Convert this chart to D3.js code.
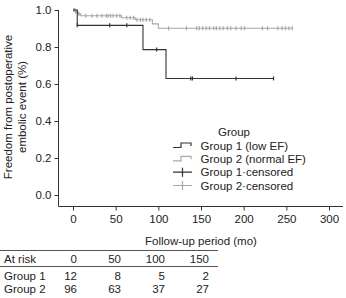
<!DOCTYPE html>
<html>
<head>
<meta charset="utf-8">
<script src="https://cdn.jsdelivr.net/npm/d3@7"></script>
<style>
  body { margin: 0; background: #fff; }
  svg text { font-family: "Liberation Sans", Arial, sans-serif; fill: #222; }
</style>
</head>
<body>
<svg id="chart" width="346" height="298"></svg>
<script>
// Kaplan-Meier steps (time in months, survival)
var g1Times = [0, 5, 82, 109, 235];
var g1Surv = [1.0, 0.917, 0.786, 0.63, 0.63];
var g1Cens = [5, 43, 63, 98, 138, 140, 191, 235];

var g2Times = [0, 3, 6, 9, 57, 73, 93, 100, 257];
var g2Surv = [1.0, 0.99, 0.979, 0.969, 0.958, 0.947, 0.925, 0.901, 0.901];
var g2Cens = [1, 2, 3, 5, 7, 15, 22, 28, 34, 39, 41, 44, 47, 51, 55,
    63, 67, 71, 75, 79, 82, 86, 90,
    112, 133, 145, 148, 152, 156, 160, 165, 168, 172, 176, 181, 185, 191, 197, 201,
    222, 228, 240, 245, 249, 253, 257];

var yTicks = [0, 0.2, 0.4, 0.6, 0.8, 1.0];
var xTicks = [0, 50, 100, 150, 200, 250, 300];

var legendLabels = ["Group 1 (low EF)", "Group 2 (normal EF)", "Group 1\u00b7censored", "Group 2\u00b7censored"];

var riskTimes = [0, 50, 100, 150];
var riskGroups = ["Group 1", "Group 2"];
var riskG1 = [12, 8, 5, 2];
var riskG2 = [96, 63, 37, 27];

var ctx = {
    col1: "#333333",
    col2: "#a8a8a8",
    axis: "#333333"
};

var svg = d3.select("#chart");

var x = d3.scaleLinear().domain([0, 300]).range([73, 329]);
var y = d3.scaleLinear().domain([0, 1]).range([195, 10]);

// L-shaped frame
svg.append("path")
    .attr("d", "M58.5," + y(1) + "V206.5H343")
    .attr("fill", "none")
    .attr("stroke", ctx.axis)
    .attr("stroke-width", 1);

var yAxis = svg.append("g")
    .attr("transform", "translate(58.5,0)")
    .call(d3.axisLeft(y).tickValues(yTicks).tickFormat(d3.format(".1f")).tickSize(4).tickPadding(3));
yAxis.select(".domain").remove();
yAxis.selectAll("line").attr("stroke", ctx.axis);
yAxis.selectAll("text").attr("font-size", "11.5px").attr("font-family", null);

var xAxis = svg.append("g")
    .attr("transform", "translate(0,206.5)")
    .call(d3.axisBottom(x).tickValues(xTicks).tickSize(4).tickPadding(4));
xAxis.select(".domain").remove();
xAxis.selectAll("line").attr("stroke", ctx.axis);
xAxis.selectAll("text").attr("font-size", "11.5px").attr("font-family", null);

// y label
var yLab = svg.append("text")
    .attr("transform", "translate(12,107) rotate(-90)")
    .attr("text-anchor", "middle")
    .attr("font-size", "11.5px");
yLab.append("tspan").attr("x", 0).attr("dy", 0).text("Freedom from postoperative");
yLab.append("tspan").attr("x", 0).attr("dy", 13.5).text("embolic event (%)");

svg.append("text")
    .attr("x", 201)
    .attr("y", 245)
    .attr("text-anchor", "middle")
    .attr("font-size", "11.5px")
    .text("Follow-up period (mo)");

// curves
var drawGroup = function(times, surv, cens, color) {
    var pts = times.map((t, i) => [t, surv[i]]);
    var line = d3.line()
        .x(d => x(d[0]))
        .y(d => y(d[1]))
        .curve(d3.curveStepAfter);
    svg.append("path")
        .datum(pts)
        .attr("d", line)
        .attr("fill", "none")
        .attr("stroke", color)
        .attr("stroke-width", 1.1);

    var survAt = function(t) {
        var s = surv[0];
        times.forEach(function(tt, i) { if (tt <= t) s = surv[i]; });
        return s;
    };
    svg.append("g").selectAll("line")
        .data(cens)
        .enter()
        .append("line")
        .attr("x1", d => x(d))
        .attr("x2", d => x(d))
        .attr("y1", d => y(survAt(d)) - 2)
        .attr("y2", d => y(survAt(d)) + 2)
        .attr("stroke", color)
        .attr("stroke-width", 1.2);
};
drawGroup(g2Times, g2Surv, g2Cens, ctx.col2);
drawGroup(g1Times, g1Surv, g1Cens, ctx.col1);

// legend
var legG = svg.append("g").attr("transform", "translate(173,0)");
legG.append("text")
    .attr("x", 61)
    .attr("y", 135.5)
    .attr("text-anchor", "middle")
    .attr("font-size", "11.5px")
    .text("Group");
var legY = d3.scalePoint().domain(legendLabels).range([145.5, 185.5]);
var legCol = [ctx.col1, ctx.col2, ctx.col1, ctx.col2];
legendLabels.forEach(function(lab, i) {
    var cy = legY(lab);
    if (i < 2) {
        legG.append("path")
            .attr("d", "M0," + (cy + 2) + "H8V" + (cy - 2.5) + "H18V" + (cy + 0.5))
            .attr("fill", "none")
            .attr("stroke", legCol[i])
            .attr("stroke-width", 1.2);
    } else {
        legG.append("path")
            .attr("d", "M0," + cy + "H19M9.5," + (cy - 4.5) + "V" + (cy + 4.5))
            .attr("fill", "none")
            .attr("stroke", legCol[i])
            .attr("stroke-width", 1.2);
    }
    legG.append("text")
        .attr("x", 27.5)
        .attr("y", cy + 4)
        .attr("font-size", "11.5px")
        .text(lab);
});

// at risk table
var riskX = d3.scaleLinear().domain([0, 150]).range([77, 209]);
svg.append("line").attr("x1", 0).attr("x2", 218).attr("y1", 250.5).attr("y2", 250.5)
    .attr("stroke", "#555").attr("stroke-width", 1);
svg.append("line").attr("x1", 0).attr("x2", 218).attr("y1", 266.5).attr("y2", 266.5)
    .attr("stroke", "#555").attr("stroke-width", 1);

svg.append("text").attr("x", 4).attr("y", 263).attr("font-size", "11.5px").text("At risk");
svg.append("g").selectAll("text")
    .data(riskTimes)
    .enter()
    .append("text")
    .attr("x", d => riskX(d))
    .attr("y", 263)
    .attr("text-anchor", "end")
    .attr("font-size", "11.5px")
    .text(d => d);

[riskG1, riskG2].forEach(function(row, r) {
    var ry = 280 + r * 13;
    svg.append("text").attr("x", 4).attr("y", ry).attr("font-size", "11.5px").text(riskGroups[r]);
    svg.append("g").selectAll("text")
        .data(row)
        .enter()
        .append("text")
        .attr("x", (d, i) => riskX(riskTimes[i]))
        .attr("y", ry)
        .attr("text-anchor", "end")
        .attr("font-size", "11.5px")
        .text(d => d);
});
</script>
</body>
</html>
